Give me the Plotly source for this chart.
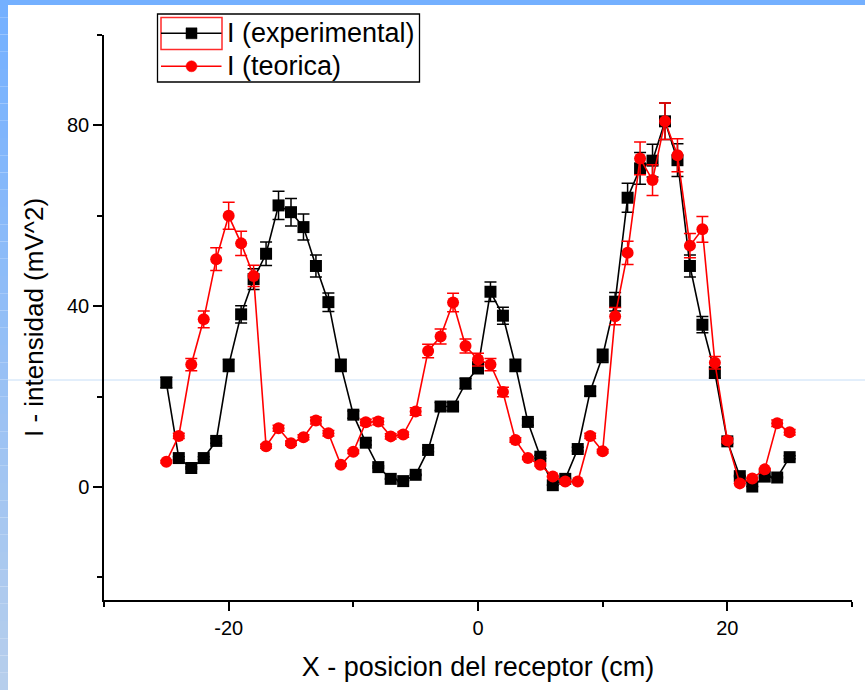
import plotly.graph_objects as go

# ---------------- data ----------------
x_pos = list(range(-25, 26))

i_experimental = [23.1, 6.4, 4.2, 6.4, 10.2, 26.9, 38.2, 46.0, 51.6, 62.3,
                  60.8, 57.5, 48.9, 40.9, 26.9, 16.0, 9.8, 4.4, 1.8, 1.3,
                  2.7, 8.2, 17.8, 17.8, 22.9, 26.4, 43.2, 37.9, 26.9, 14.4,
                  6.7, 0.4, 1.8, 8.4, 21.2, 29.0, 41.0, 64.0, 70.5, 72.2,
                  80.9, 72.3, 48.9, 35.9, 25.3, 10.1, 2.4, 0.1, 2.3, 2.1,
                  6.6]

i_teorica = [5.6, 11.3, 27.1, 37.1, 50.4, 60.0, 53.9, 46.7, 9.0, 13.0,
             9.7, 11.0, 14.7, 11.9, 4.9, 7.8, 14.3, 14.5, 11.2, 11.6,
             16.7, 30.1, 33.3, 40.8, 31.2, 28.2, 27.1, 21.0, 10.4, 6.4,
             4.9, 2.3, 1.2, 1.2, 11.3, 7.9, 37.8, 51.8, 72.7, 67.9,
             80.9, 73.4, 53.4, 57.0, 27.5, 10.3, 0.8, 1.9, 3.9, 14.1,
             12.1]

series_names = ["I (experimental)", "I (teorica)"]
x_tickvals = [-20, 0, 20]
x_ticktext = ["-20", "0", "20"]
y_tickvals = [0, 40, 80]
y_ticktext = ["0", "40", "80"]
x_title = "X - posicion del receptor (cm)"
y_title = "I - intensidad (mV^2)"
error_percent = 5

# ---------------- layout geometry ----------------
W, H = 865, 690
L, R, T, B = 104, 852, 35, 600  # plot area in pixels


def px(xp):
    return (xp - L) / (R - L)


def py(yp):
    return (B - yp) / (B - T)


FONT = "Liberation Sans, Arial, sans-serif"
BLACK = "black"
RED = "#ff0000"

fig = go.Figure()

fig.add_trace(go.Scatter(
    x=x_pos, y=i_experimental, name=series_names[0],
    mode="lines+markers",
    line=dict(color=BLACK, width=1.6),
    marker=dict(symbol="square", size=12, color=BLACK),
    error_y=dict(type="percent", value=error_percent, color=BLACK,
                 thickness=1.5, width=6),
))

fig.add_trace(go.Scatter(
    x=x_pos, y=i_teorica, name=series_names[1],
    mode="lines+markers",
    line=dict(color=RED, width=1.6),
    marker=dict(symbol="circle", size=12, color=RED),
    error_y=dict(type="percent", value=error_percent, color=RED,
                 thickness=1.5, width=6),
))

shapes = []
# blue frame: gradient strip on the left, plain strip on top
n = 40
top_c = (116, 176, 255)
bot_c = (182, 206, 236)
for k in range(n):
    y0p = k * H / n
    y1p = (k + 1) * H / n
    t = k / (n - 1)
    c = tuple(int(round(top_c[j] + (bot_c[j] - top_c[j]) * t)) for j in range(3))
    shapes.append(dict(type="rect", xref="paper", yref="paper",
                       x0=px(0), x1=px(8), y0=py(y1p), y1=py(y0p),
                       fillcolor="rgb(%d,%d,%d)" % c, line=dict(width=0),
                       layer="above"))
shapes.append(dict(type="rect", xref="paper", yref="paper",
                   x0=px(0), x1=px(W), y0=py(5), y1=py(0),
                   fillcolor="rgb(116,176,255)", line=dict(width=0),
                   layer="above"))
# thin light-blue guide line across the picture
shapes.append(dict(type="line", xref="paper", yref="paper",
                   x0=px(8), x1=px(W), y0=py(380), y1=py(380),
                   line=dict(color="#c6def7", width=1), layer="below"))

# ---------------- legend box (Origin style) ----------------
shapes.append(dict(type="rect", xref="paper", yref="paper",
                   x0=px(157.5), x1=px(419.5), y0=py(82), y1=py(14),
                   line=dict(color=BLACK, width=1.3), fillcolor="white",
                   layer="above"))
# red selection frame around first legend symbol
shapes.append(dict(type="rect", xref="paper", yref="paper",
                   x0=px(161), x1=px(222), y0=py(49.5), y1=py(17.5),
                   line=dict(color="#ff2a2a", width=1.5),
                   fillcolor="rgba(0,0,0,0)", layer="above"))
legend_rows = [(33.3, BLACK, "square"), (66.3, RED, "circle")]
annotations = []
for (yrow, col, sym), name in zip(legend_rows, series_names):
    shapes.append(dict(type="line", xref="paper", yref="paper",
                       x0=px(161), x1=px(221.5), y0=py(yrow), y1=py(yrow),
                       line=dict(color=col, width=1.6), layer="above"))
    s = 5.5
    shapes.append(dict(type="rect" if sym == "square" else "circle",
                       xref="paper", yref="paper",
                       x0=px(191.5 - s), x1=px(191.5 + s),
                       y0=py(yrow + s), y1=py(yrow - s),
                       fillcolor=col, line=dict(color=col, width=0.5),
                       layer="above"))
    annotations.append(dict(xref="paper", yref="paper",
                            x=px(225), y=py(yrow), xanchor="left",
                            yanchor="middle", showarrow=False, text=name,
                            font=dict(size=27, family=FONT, color=BLACK)))

fig.update_layout(
    width=W, height=H,
    margin=dict(l=L, r=W - R, t=T, b=H - B, pad=0),
    paper_bgcolor="white", plot_bgcolor="white",
    font=dict(family=FONT, color=BLACK),
    showlegend=False,
    shapes=shapes,
    annotations=annotations,
)

fig.update_xaxes(
    range=[-30, 30], tickmode="array", tickvals=x_tickvals, ticktext=x_ticktext,
    showgrid=False, zeroline=False,
    showline=True, linecolor=BLACK, linewidth=1.5,
    ticks="outside", ticklen=9, tickwidth=1.5, tickcolor=BLACK,
    tickfont=dict(size=20, family=FONT),
    minor=dict(tickmode="linear", tick0=0, dtick=10, ticks="outside",
               ticklen=5, tickwidth=1.5, tickcolor=BLACK, showgrid=False),
    title=dict(text=x_title, font=dict(size=27, family=FONT), standoff=19),
)
fig.update_yaxes(
    range=[-25, 100], tickmode="array", tickvals=y_tickvals, ticktext=y_ticktext,
    showgrid=False, zeroline=False,
    showline=True, linecolor=BLACK, linewidth=1.5,
    ticks="outside", ticklen=9, tickwidth=1.5, tickcolor=BLACK,
    tickfont=dict(size=20, family=FONT),
    minor=dict(tickmode="linear", tick0=0, dtick=20, ticks="outside",
               ticklen=5, tickwidth=1.5, tickcolor=BLACK, showgrid=False),
    title=dict(text=y_title, font=dict(size=26, family=FONT), standoff=16),
)

fig.write_html("out.html")
